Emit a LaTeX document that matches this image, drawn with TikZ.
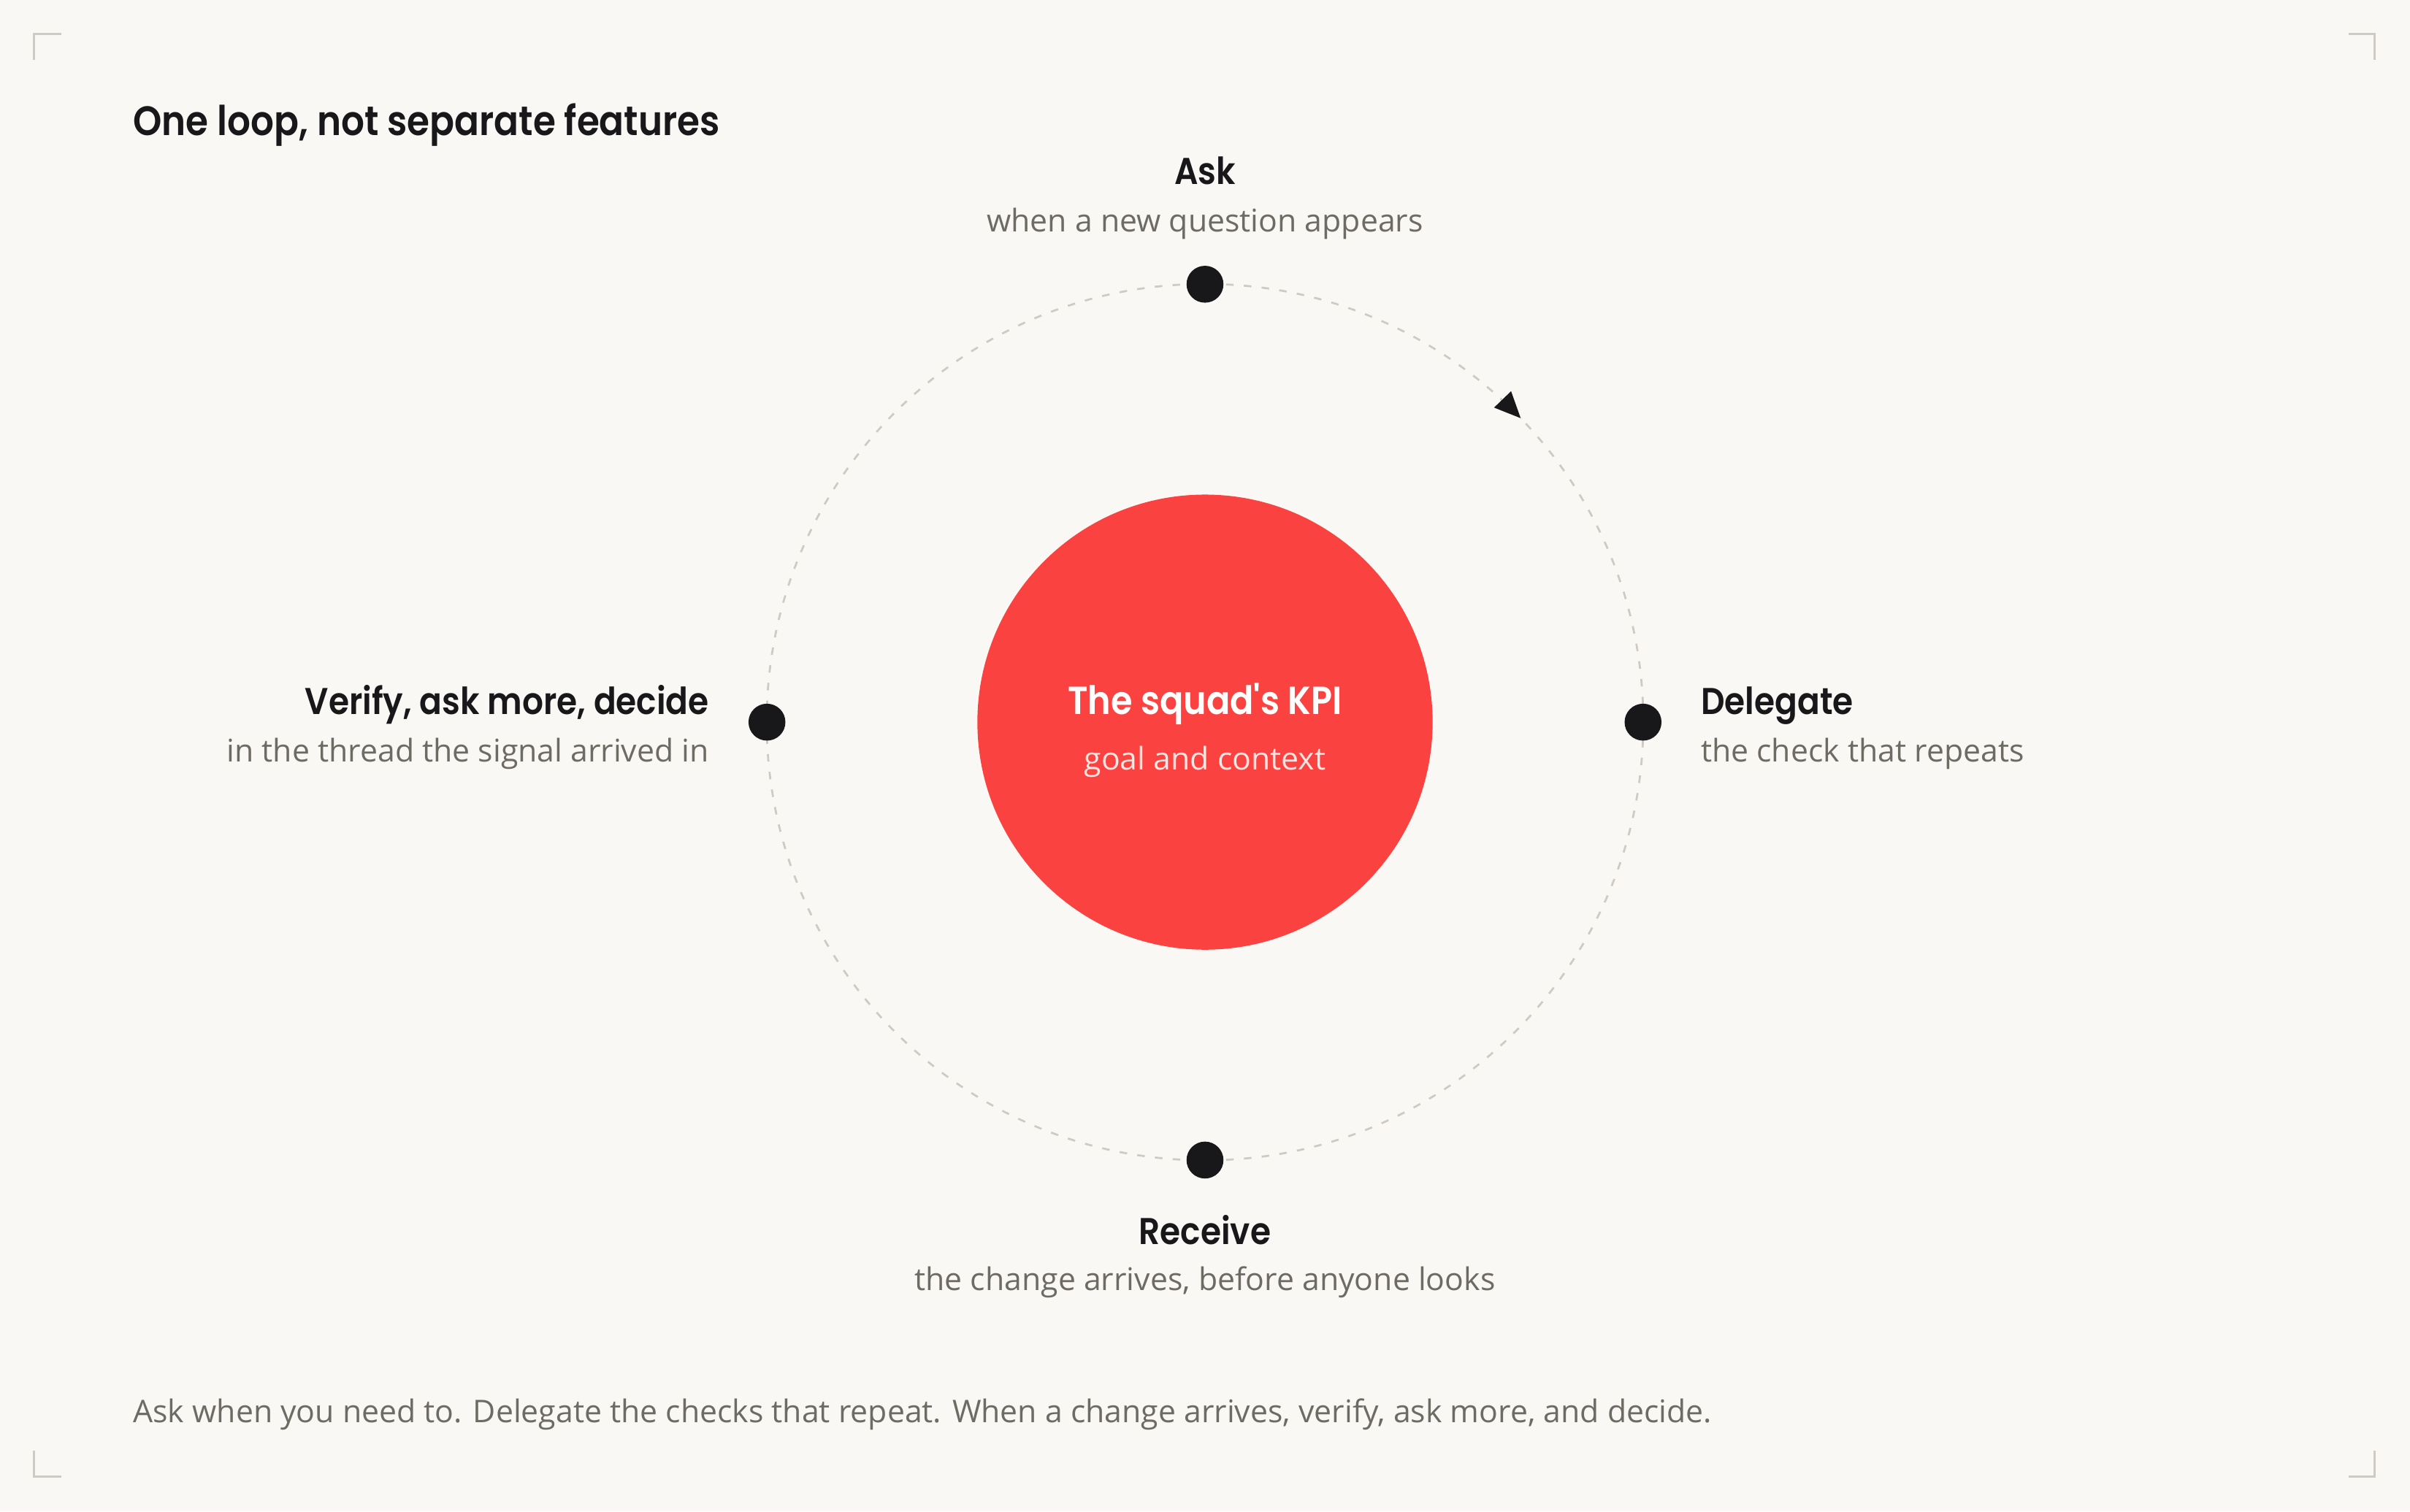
\documentclass[tikz,border=0pt]{standalone}
\usepackage{fontspec}
\usetikzlibrary{arrows.meta}
\usetikzlibrary{decorations.markings}
\setmainfont{Open Sans}
\newfontfamily\headfont[FakeStretch=0.89]{Poppins SemiBold}
\definecolor{paper}{HTML}{F9F8F4}
\definecolor{ink}{HTML}{18181B}
\definecolor{muted}{HTML}{6E6A64}
\definecolor{edge}{HTML}{CFCBC4}
\definecolor{kpired}{HTML}{FA4340}
\definecolor{blush}{HTML}{FFE4E1}

\begin{document}
\begin{tikzpicture}[x=0.01cm,y=-0.01cm,
        corner/.style={draw=edge,line width=0.34pt},
        ring/.style={draw=edge,line width=0.37pt,dash pattern=on 1.4pt off 1.9pt},
        stepdot/.style={circle,fill=ink,minimum size=0.24cm,inner sep=0pt},
        steptitle/.style={font=\headfont\fontsize{6.9}{8}\selectfont,text=ink,inner sep=0pt},
        stepnote/.style={font=\fontsize{5.78}{7}\selectfont,text=muted,inner sep=0pt}]
        \fill[paper] (0,0) rectangle (1568,983.6);

        \draw[corner] (22,39) -- (22,22) -- (40,22);
        \draw[corner] (1528,22) -- (1545,22) -- (1545,39);
        \draw[corner] (22,944) -- (22,961) -- (40,961);
        \draw[corner] (1528,961) -- (1545,961) -- (1545,944);

        \node[anchor=base west,inner sep=0pt,text=ink,font=\headfont\fontsize{7.6}{9}\selectfont] (title) at (86,88) {One loop, not separate features};

        \node[circle,fill=kpired,minimum size=2.96cm,inner sep=0pt] (hub) at (784,470) {};
        \draw[ring,postaction={decorate},decoration={markings,
            mark=at position 0.122 with {\arrowreversed[ink]{Triangle[length=0.17cm,width=0.15cm]}}}]
            (hub.center) circle[radius=2.85cm];

        \node[stepdot] (ask) at (784,185) {};
        \node[stepdot] (delegate) at (1069,470) {};
        \node[stepdot] (receive) at (784,755) {};
        \node[stepdot] (verify) at (499,470) {};

        \node[steptitle,anchor=base,text=white,font=\headfont\fontsize{7.25}{8}\selectfont] (kpi) at (784,465) {The squad's KPI};
        \node[stepnote,anchor=base,text=blush] (kpinote) at (784,501) {goal and context};

        \node[steptitle,anchor=base] (asktitle) at (784,120) {Ask};
        \node[stepnote,anchor=base] (asknote) at (784,151) {when a new question appears};
        \node[steptitle,anchor=base west] (delegatetitle) at (1106,465) {Delegate};
        \node[stepnote,anchor=base west] (delegatenote) at (1106,496) {the check that repeats};
        \node[steptitle,anchor=base] (receivetitle) at (784,810) {Receive};
        \node[stepnote,anchor=base] (receivenote) at (784,840) {the change arrives, before anyone looks};
        \node[steptitle,anchor=base east] (verifytitle) at (462,465) {Verify, ask more, decide};
        \node[stepnote,anchor=base east] (verifynote) at (462,496) {in the thread the signal arrived in};

        \node[stepnote,anchor=base west] (caption) at (86,926) {Ask when you need to. Delegate the checks that repeat. When a change arrives, verify, ask more, and decide.};
    \end{tikzpicture}
\end{document}
